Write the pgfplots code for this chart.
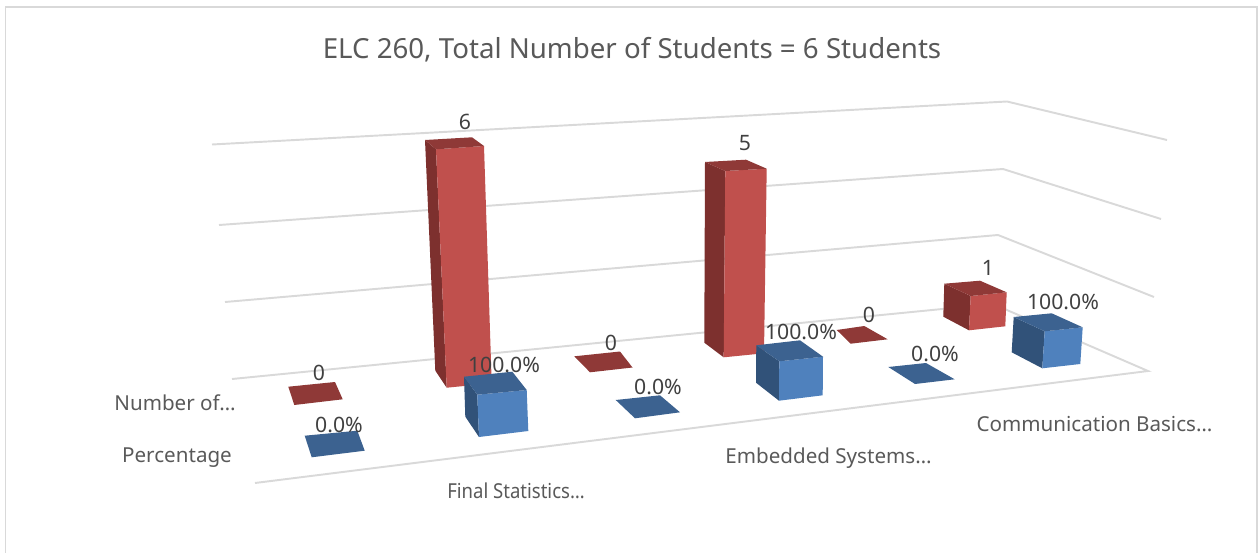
\documentclass[border=0pt]{standalone}
\usepackage{fontspec}
\setmainfont{Noto Sans}
\usepackage{pgfplots}
\pgfplotsset{compat=1.18}
\definecolor{grid}{HTML}{D9D9D9}
\definecolor{txt}{HTML}{595959}
\definecolor{lab}{HTML}{404040}
\definecolor{rF}{HTML}{C0504D}
\definecolor{rL}{HTML}{7D302E}
\definecolor{rT}{HTML}{8F3937}
\definecolor{bF}{HTML}{4F81BD}
\definecolor{bL}{HTML}{315279}
\definecolor{bT}{HTML}{3C6290}
\pgfplotsset{
  face/.style={fill=#1,draw=none,mark=none,forget plot},
  gl/.style={draw=grid,line width=1.45pt,mark=none,line join=miter,forget plot}
}
\newcommand{\ax}[3]{\node[text=txt,font=\fontsize{15.45}{18}\selectfont,anchor=center,inner sep=0pt] at (axis cs:#1,#2) {#3};}
\newcommand{\dl}[3]{\node[text=lab,font=\fontsize{15.9}{18}\selectfont,anchor=center,inner sep=0pt] at (axis cs:#1,#2) {#3};}
\begin{document}
\begin{tikzpicture}
\begin{axis}[
  scale only axis, width=943.5pt, height=414.75pt,
  xmin=0, xmax=1258, ymin=0, ymax=553, y dir=reverse,
  axis lines=none, clip=false]
\path[use as bounding box] (axis cs:0,0) rectangle (axis cs:1258,553);
% chart frame
\addplot[draw=grid,line width=1.3pt,mark=none,forget plot] coordinates {(5.5,553) (5.5,7) (1257,7) (1257,553)};
% gridlines: value 6, 4, 2, 0 (back wall and side wall)
\addplot[gl] coordinates {(212,144.5) (1007,101.5) (1167,140)};
\addplot[gl] coordinates {(219,225) (1003,169) (1161,219)};
\addplot[gl] coordinates {(225,302) (998,235) (1154,297)};
\addplot[gl] coordinates {(232,379) (993,304) (1148,371) (255,483)};
% Number of..., first group: 0
\addplot[face=rT] coordinates {(288.3,386.7) (335,382) (342.7,399.3) (294.3,405)} -- cycle;
% Percentage, first group: 0.0%
\addplot[face=bT] coordinates {(304.7,435.7) (357.3,430.7) (364.7,450.7) (311.7,457.3)} -- cycle;
% Number of, second group: 6
\addplot[face=rL] coordinates {(425,140) (436,149.3) (446.7,387.7) (435.3,370.7)} -- cycle;
\addplot[face=rF] coordinates {(436,149.3) (484,146) (491.7,383.3) (446.7,387.7)} -- cycle;
\addplot[face=rT] coordinates {(425,140) (472,137.3) (484,146) (436,149.3)} -- cycle;
% Percentage: 100.0%
\addplot[face=bL] coordinates {(464,376.7) (477.3,394.7) (479,437) (465.3,416.7)} -- cycle;
\addplot[face=bF] coordinates {(477.3,394.7) (526.7,390) (528.3,431) (479,437)} -- cycle;
\addplot[face=bT] coordinates {(464,376.7) (512.3,371.7) (526.7,390) (477.3,394.7)} -- cycle;
% third group: 0, 0.0%
\addplot[face=rT] coordinates {(574.3,356.3) (620,351.5) (632.5,367.5) (590,372.3)} -- cycle;
\addplot[face=bT] coordinates {(615.7,400) (660,395.3) (680,412.3) (635,418.3)} -- cycle;
% fourth group: 5
\addplot[face=rL] coordinates {(705,162) (725.3,171) (723.7,357.3) (704.3,342.7)} -- cycle;
\addplot[face=rF] coordinates {(725.3,171) (766.7,168.7) (764,353.3) (723.7,357.3)} -- cycle;
\addplot[face=rT] coordinates {(705,162) (746,159.7) (766.7,168.7) (725.3,171)} -- cycle;
% 100.0%
\addplot[face=bL] coordinates {(756.3,345.3) (779.3,361.3) (779,400.7) (756,382.7)} -- cycle;
\addplot[face=bF] coordinates {(779.3,361.3) (823,356.7) (822.7,395.3) (779,400.7)} -- cycle;
\addplot[face=bT] coordinates {(756.3,345.3) (800,340.3) (823,356.7) (779.3,361.3)} -- cycle;
% fifth group: 0, 0.0%
\addplot[face=rT] coordinates {(836.7,330) (864.3,326) (887.7,339.3) (850.7,343.7)} -- cycle;
\addplot[face=bT] coordinates {(888.3,367) (926,363) (954.7,379.3) (915,384)} -- cycle;
% sixth group: 1
\addplot[face=rL] coordinates {(944.3,283.7) (970.7,296) (969,330.3) (943.3,316.7)} -- cycle;
\addplot[face=rF] coordinates {(970.7,296) (1006.7,292.3) (1005.3,326.3) (969,330.3)} -- cycle;
\addplot[face=rT] coordinates {(944.3,283.7) (980,280.7) (1006.7,292.3) (970.7,296)} -- cycle;
% 100.0%
\addplot[face=bL] coordinates {(1013.7,317) (1044.7,331.3) (1042.3,368.3) (1011.7,352.3)} -- cycle;
\addplot[face=bF] coordinates {(1044.7,331.3) (1082.7,327.3) (1080.3,364) (1042.3,368.3)} -- cycle;
\addplot[face=bT] coordinates {(1013.7,317) (1051.7,313.3) (1082.7,327.3) (1044.7,331.3)} -- cycle;
% title
\node[text=txt,font=\fontsize{20.75}{24}\selectfont,anchor=center,inner sep=0pt] at (axis cs:632,49.5) {ELC 260, Total Number of Students = 6 Students};
% data labels
\dl{465}{122}{6}
\dl{745}{143}{5}
\dl{319}{373}{0}
\dl{339}{425}{0.0\%}
\dl{504}{365}{100.0\%}
\dl{611}{343}{0}
\dl{658}{387}{0.0\%}
\dl{801}{332}{100.0\%}
\dl{869}{315}{0}
\dl{935}{354}{0.0\%}
\dl{988}{268}{1}
\dl{1063}{302}{100.0\%}
% axis labels
\ax{175}{403}{Number of…}
\ax{177}{457.5}{Percentage}
\ax{516}{491}{\scalebox{0.9}[1]{Final Statistics…}}
\ax{828.5}{458}{Embedded Systems…}
\ax{1094.5}{424}{Communication Basics…}
\end{axis}
\end{tikzpicture}
\end{document}
